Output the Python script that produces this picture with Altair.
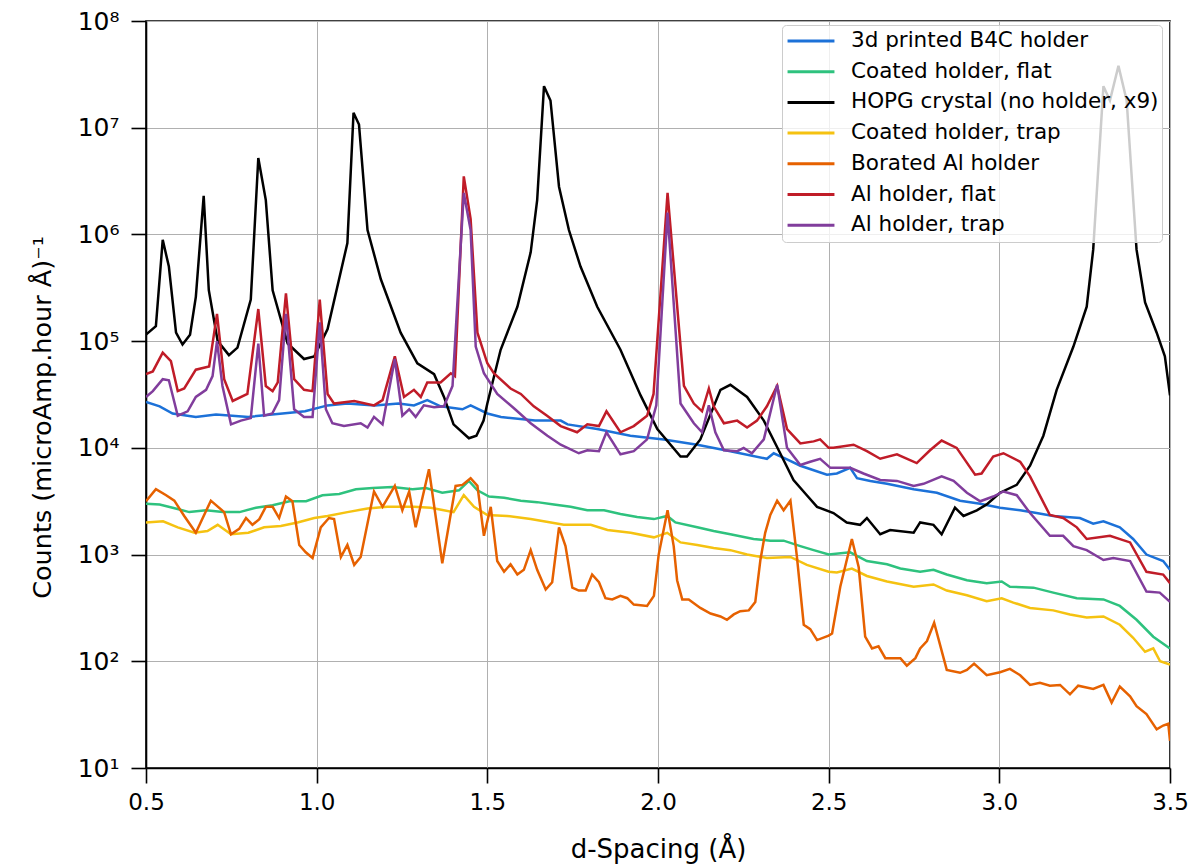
import altair as alt
import pandas as pd

SERIES = [
    "3d printed B4C holder",
    "Coated holder, flat",
    "HOPG crystal (no holder, x9)",
    "Coated holder, trap",
    "Borated Al holder",
    "Al holder, flat",
    "Al holder, trap",
]
COLORS = ["#1c71d8", "#2ec27e", "#000000", "#f5c211", "#e66100", "#c01c28", "#813d9c"]

# --- 3d printed B4C holder (blue)
b4c_d = [0.5, 0.54, 0.578, 0.646, 0.705, 0.80, 0.90, 0.966, 1.032, 1.09, 1.17, 1.24, 1.285, 1.324,
         1.363, 1.427, 1.451, 1.50, 1.54, 1.64, 1.715, 1.735, 1.822, 1.919, 2.017, 2.115, 2.212,
         2.319, 2.339, 2.378, 2.417, 2.495, 2.524, 2.563, 2.583, 2.622, 2.671, 2.749, 2.817, 2.885,
         2.944, 3.002, 3.061, 3.109, 3.158, 3.236, 3.275, 3.305, 3.353, 3.392, 3.431, 3.48, 3.5]
b4c_c = [27000, 24500, 21000, 19500, 20500, 19500, 21000, 22000, 25000, 26000, 25000, 26000, 25000, 28000,
         24500, 23000, 25000, 21000, 19500, 18000, 18000, 16600, 15000, 13000, 12000, 10700, 9300,
         7900, 8900, 7800, 6800, 5600, 5750, 6500, 5200, 4900, 4600, 4100, 3800, 3200,
         3000, 2750, 2600, 2450, 2300, 2200, 1950, 2050, 1800, 1400, 1000, 870, 720]

# --- Coated holder, flat (green)
cflat_d = [0.5, 0.54, 0.578, 0.627, 0.676, 0.725, 0.774, 0.822, 0.871, 0.92, 0.969, 1.017, 1.066,
           1.115, 1.164, 1.222, 1.281, 1.32, 1.368, 1.417, 1.446, 1.471, 1.505, 1.549, 1.598, 1.646,
           1.695, 1.744, 1.793, 1.842, 1.89, 1.939, 1.988, 2.027, 2.051, 2.115, 2.163, 2.212, 2.28,
           2.329, 2.368, 2.417, 2.456, 2.5, 2.563, 2.612, 2.671, 2.71, 2.768, 2.807, 2.846, 2.905,
           2.963, 3.007, 3.031, 3.1, 3.158, 3.227, 3.305, 3.353, 3.402, 3.451, 3.5]
cflat_c = [3000, 2950, 2750, 2500, 2600, 2500, 2500, 2750, 2900, 3160, 3160, 3600, 3700,
           4100, 4200, 4300, 4100, 4200, 3800, 4000, 4900, 4000, 3500, 3400, 3200, 3100,
           2950, 2800, 2600, 2600, 2400, 2250, 2150, 2300, 2000, 1800, 1660, 1550, 1400,
           1350, 1350, 1200, 1100, 1000, 1050, 870, 810, 740, 690, 720, 650, 575,
           540, 560, 500, 490, 440, 390, 380, 330, 245, 170, 132]

# --- HOPG crystal (no holder, x9) (black)
hopg_d = [0.5, 0.529, 0.549, 0.567, 0.588, 0.607, 0.629, 0.646, 0.669, 0.684, 0.71, 0.743, 0.768,
          0.807, 0.829, 0.851, 0.871, 0.915, 0.963, 0.993, 1.032, 1.09, 1.108, 1.124, 1.149, 1.188,
          1.246, 1.295, 1.344, 1.373, 1.401, 1.446, 1.468, 1.489, 1.5, 1.539, 1.588, 1.627, 1.646,
          1.666, 1.685, 1.71, 1.739, 1.773, 1.822, 1.89, 1.949, 1.998, 2.066, 2.085, 2.124, 2.183,
          2.212, 2.261, 2.31, 2.358, 2.397, 2.436, 2.466, 2.514, 2.553, 2.592, 2.612, 2.651, 2.68,
          2.749, 2.768, 2.807, 2.831, 2.87, 2.895, 2.934, 2.963, 3.002, 3.051, 3.09, 3.129, 3.168,
          3.217, 3.256, 3.275, 3.305, 3.324, 3.349, 3.373, 3.402, 3.427, 3.461, 3.485, 3.5]
hopg_c = [115000, 138000, 890000, 500000, 120000, 93000, 115000, 260000, 2300000, 300000, 100000, 74000, 87000,
          245000, 5200000, 2100000, 300000, 95000, 68000, 72000, 130000, 830000, 13800000, 10700000, 1100000, 380000,
          120000, 62000, 49000, 30000, 16600, 12300, 13000, 18000, 26000, 83000, 210000, 680000, 2100000,
          24500000, 18000000, 2800000, 1100000, 500000, 210000, 83000, 31000, 15000, 8300, 8300, 12000, 35000,
          39000, 30000, 18000, 8900, 5000, 3600, 2800, 2450, 2000, 1900, 2200, 1550, 1700,
          1600, 2000, 1900, 1550, 2750, 2300, 2600, 2950, 3800, 4500, 6800, 13000, 35000,
          89000, 210000, 720000, 24500000, 18000000, 38000000, 18000000, 720000, 230000, 120000, 72000, 31000]

# --- Coated holder, trap (yellow)
ctrap_d = [0.5, 0.55, 0.593, 0.642, 0.68, 0.71, 0.749, 0.8, 0.846, 0.895, 0.944, 0.993, 1.032, 1.09,
           1.149, 1.207, 1.285, 1.334, 1.401, 1.431, 1.461, 1.5, 1.558, 1.627, 1.724, 1.803, 1.852,
           1.92, 1.988, 2.027, 2.066, 2.115, 2.163, 2.212, 2.261, 2.319, 2.388, 2.436, 2.5, 2.524,
           2.568, 2.612, 2.671, 2.749, 2.807, 2.846, 2.905, 2.963, 3.007, 3.041, 3.09, 3.158, 3.207,
           3.256, 3.305, 3.353, 3.392, 3.427, 3.451, 3.471, 3.5]
ctrap_c = [2000, 2050, 1800, 1600, 1660, 1900, 1550, 1600, 1800, 1850, 2000, 2200, 2300, 2500,
           2700, 2800, 2800, 2750, 2500, 3600, 2800, 2350, 2300, 2150, 1900, 1900, 1700,
           1600, 1450, 1600, 1300, 1230, 1150, 1100, 1000, 930, 950, 800, 690, 680,
           740, 630, 560, 500, 525, 460, 415, 365, 390, 355, 316, 300, 275,
           257, 263, 220, 166, 123, 132, 100, 93]

# --- Borated Al holder (orange)
bal_d = [0.5, 0.529, 0.559, 0.583, 0.612, 0.646, 0.69, 0.729, 0.749, 0.773, 0.793, 0.812, 0.832,
         0.851, 0.871, 0.89, 0.91, 0.929, 0.949, 0.968, 0.988, 1.012, 1.036, 1.051, 1.071, 1.09,
         1.11, 1.129, 1.168, 1.193, 1.229, 1.251, 1.271, 1.29, 1.329, 1.368, 1.407, 1.427, 1.451,
         1.471, 1.49, 1.51, 1.529, 1.549, 1.568, 1.588, 1.607, 1.627, 1.646, 1.671, 1.69, 1.71,
         1.729, 1.749, 1.768, 1.788, 1.807, 1.827, 1.846, 1.866, 1.89, 1.91, 1.929, 1.968, 1.988,
         2.002, 2.028, 2.046, 2.056, 2.071, 2.09, 2.124, 2.154, 2.183, 2.202, 2.222, 2.241, 2.266,
         2.285, 2.3, 2.314, 2.329, 2.349, 2.368, 2.388, 2.407, 2.427, 2.446, 2.466, 2.5, 2.51,
         2.534, 2.568, 2.588, 2.607, 2.627, 2.646, 2.666, 2.71, 2.729, 2.754, 2.768, 2.788, 2.809,
         2.846, 2.885, 2.905, 2.926, 2.963, 3.002, 3.031, 3.061, 3.09, 3.119, 3.148, 3.178, 3.207,
         3.231, 3.275, 3.305, 3.329, 3.353, 3.383, 3.402, 3.431, 3.461, 3.48, 3.495, 3.5]
bal_c = [3160, 4100, 3600, 3200, 2300, 1600, 3200, 2500, 1550, 1740, 2200, 1900, 2150,
         2800, 2800, 2200, 3500, 3160, 1230, 1050, 930, 1800, 2200, 2150, 950, 1230,
         800, 950, 3900, 2800, 4400, 2600, 3900, 1800, 6300, 830, 4400, 4500, 5200,
         4400, 1500, 2800, 870, 690, 810, 650, 720, 1100, 720, 470, 550, 1800,
         1200, 490, 460, 460, 650, 550, 390, 380, 410, 390, 340, 330, 410,
         1000, 2600, 1200, 575, 380, 380, 316, 280, 263, 245, 275, 295, 300,
         360, 890, 1600, 2350, 3200, 2600, 3200, 950, 220, 200, 158, 174, 182,
         500, 1400, 760, 170, 132, 138, 107, 107, 91, 107, 132, 155, 230,
         83, 78, 83, 95, 74, 79, 85, 74, 60, 63, 59, 60, 49,
         59, 55, 60, 41, 58, 47, 38, 32, 23, 25, 26, 18]

# --- Al holder, flat (red)
alf_d = [0.5, 0.52, 0.549, 0.573, 0.593, 0.612, 0.646, 0.685, 0.708, 0.729, 0.754, 0.797, 0.829,
         0.851, 0.871, 0.886, 0.91, 0.934, 0.963, 0.988, 1.009, 1.032, 1.051, 1.11, 1.168, 1.193,
         1.229, 1.256, 1.285, 1.305, 1.324, 1.363, 1.393, 1.405, 1.431, 1.451, 1.471, 1.5, 1.519,
         1.568, 1.598, 1.636, 1.675, 1.715, 1.763, 1.793, 1.827, 1.849, 1.89, 1.929, 1.968, 1.987,
         2.028, 2.076, 2.105, 2.129, 2.149, 2.163, 2.193, 2.232, 2.261, 2.29, 2.319, 2.349, 2.378,
         2.417, 2.456, 2.475, 2.5, 2.514, 2.573, 2.612, 2.651, 2.7, 2.758, 2.797, 2.831, 2.875,
         2.929, 2.948, 2.982, 3.012, 3.061, 3.09, 3.148, 3.187, 3.227, 3.256, 3.324, 3.383, 3.431,
         3.48, 3.5]
alf_c = [49000, 52000, 78000, 65000, 34000, 36000, 54000, 58000, 180000, 44000, 27500, 32000, 200000,
         38000, 34000, 41000, 280000, 44000, 35000, 34000, 245000, 32000, 26000, 27500, 25000, 28000,
         72000, 30000, 35000, 30000, 41000, 41000, 50000, 47000, 3500000, 1400000, 120000, 62000, 50000,
         36000, 32000, 24500, 20000, 16000, 14000, 16600, 16000, 22000, 14000, 16000, 20000, 32000,
         2450000, 38000, 26000, 22000, 36000, 24500, 17000, 18000, 15500, 18000, 24500, 38000, 15000,
         11000, 11500, 12000, 10000, 10000, 10700, 9300, 7900, 8700, 7200, 9500, 11700, 10000,
         5600, 5750, 8300, 8900, 7400, 5400, 2350, 2200, 1800, 1400, 1500, 1300, 690,
         650, 540]

# --- Al holder, trap (purple)
alt_d = [0.5, 0.52, 0.549, 0.567, 0.593, 0.622, 0.646, 0.676, 0.695, 0.708, 0.724, 0.749, 0.778,
         0.807, 0.829, 0.846, 0.87, 0.89, 0.91, 0.934, 0.963, 0.988, 1.009, 1.027, 1.046, 1.08,
         1.129, 1.149, 1.168, 1.193, 1.229, 1.251, 1.271, 1.29, 1.314, 1.344, 1.373, 1.398, 1.431,
         1.451, 1.466, 1.49, 1.529, 1.578, 1.627, 1.676, 1.715, 1.768, 1.793, 1.827, 1.849, 1.89,
         1.929, 1.968, 1.995, 2.028, 2.066, 2.105, 2.129, 2.149, 2.168, 2.193, 2.232, 2.251, 2.275,
         2.31, 2.349, 2.378, 2.417, 2.446, 2.475, 2.505, 2.563, 2.602, 2.651, 2.7, 2.749, 2.778,
         2.831, 2.866, 2.905, 2.944, 2.982, 3.012, 3.051, 3.09, 3.148, 3.187, 3.217, 3.256, 3.305,
         3.334, 3.383, 3.431, 3.47, 3.5]
alt_c = [30000, 34000, 44000, 43000, 20000, 22000, 30000, 35000, 47000, 100000, 38000, 16600, 18000,
         19000, 95000, 20000, 21000, 28000, 180000, 23000, 19500, 19500, 150000, 23000, 17000, 16000,
         17000, 15500, 19500, 16600, 68000, 20000, 23000, 19500, 25000, 24000, 24500, 38000, 2450000,
         1100000, 89000, 50000, 32000, 23500, 17000, 13000, 10700, 8900, 9500, 9300, 14000, 8700,
         9300, 12000, 25000, 1600000, 26000, 17000, 14000, 25000, 14000, 9500, 9300, 10000, 8900,
         12000, 39000, 10000, 6900, 7400, 7900, 6500, 6500, 5750, 5000, 4900, 4400, 4600,
         5400, 4900, 3800, 3160, 3500, 3900, 3600, 2450, 1500, 1500, 1200, 1100, 890,
         930, 870, 450, 440, 360]

DATA = [
    (b4c_d, b4c_c), (cflat_d, cflat_c), (hopg_d, hopg_c), (ctrap_d, ctrap_c),
    (bal_d, bal_c), (alf_d, alf_c), (alt_d, alt_c),
]

rows = []
for name, (ds, cs) in zip(SERIES, DATA):
    for i, (d, c) in enumerate(zip(ds, cs)):
        rows.append({"series": name, "d": d, "counts": c, "i": i})
df = pd.DataFrame(rows)

FONT = "DejaVu Sans"
X_TICKS = [0.5, 1.0, 1.5, 2.0, 2.5, 3.0, 3.5]
Y_TICKS = [1e1, 1e2, 1e3, 1e4, 1e5, 1e6, 1e7, 1e8]

color = alt.Color(
    "series:N",
    scale=alt.Scale(domain=SERIES, range=COLORS),
    legend=alt.Legend(
        title=None,
        orient="none",
        legendX=636,
        legendY=4,
        direction="vertical",
        fillColor="rgba(255,255,255,0.8)",
        strokeColor="#cccccc",
        cornerRadius=4,
        padding=3,
        symbolType="stroke",
        symbolSize=2200,
        symbolStrokeWidth=3,
        symbolOffset=1,
        clipHeight=26,
        rowPadding=4.7,
        labelFont=FONT,
        labelFontSize=21.5,
        labelColor="#000000",
        labelOffset=15,
        labelLimit=400,
        zindex=1,
    ),
)

base = alt.Chart(df)
layers = []
for name in SERIES:
    layers.append(
        base.transform_filter(alt.datum.series == name)
        .mark_line(strokeWidth=2.5, clip=True)
        .encode(
            x=alt.X(
                "d:Q",
                scale=alt.Scale(domain=[0.5, 3.5], nice=False, zero=False),
                axis=alt.Axis(
                    values=X_TICKS,
                    format=".1f",
                    title="d-Spacing (Å)",
                    grid=True,
                    gridColor="#b0b0b0",
                    gridWidth=1,
                    domainColor="#000000",
                    domainWidth=1.6,
                    tickColor="#000000",
                    tickWidth=1.6,
                    tickSize=15,
                    labelFont=FONT,
                    labelFontSize=23,
                    labelColor="#000000",
                    labelPadding=8,
                    titleFont=FONT,
                    titleFontSize=26,
                    titleFontWeight="normal",
                    titleColor="#000000",
                    titlePadding=22,
                    labelFlush=False,
                ),
            ),
            y=alt.Y(
                "counts:Q",
                scale=alt.Scale(type="log", domain=[10, 1e8], nice=False),
                axis=alt.Axis(
                    values=Y_TICKS,
                    labelExpr="'10' + ['⁰','¹','²','³','⁴','⁵','⁶','⁷','⁸','⁹'][round(log(datum.value)/LN10)]",
                    title="Counts (microAmp.hour Å)⁻¹",
                    grid=True,
                    gridColor="#b0b0b0",
                    gridWidth=1,
                    domainColor="#000000",
                    domainWidth=1.6,
                    tickColor="#000000",
                    tickWidth=1.6,
                    tickSize=15,
                    labelFont=FONT,
                    labelFontSize=25,
                    labelColor="#000000",
                    labelPadding=12,
                    titleFont=FONT,
                    titleFontSize=25.5,
                    titleFontWeight="normal",
                    titleColor="#000000",
                    titlePadding=22,
                    titleY=396,
                    labelFlush=False,
                ),
            ),
            color=color,
            order="i:Q",
        )
    )

chart = (
    alt.layer(*layers)
    .properties(
        width=1024,
        height=747,
        padding={"left": 146, "top": 21, "right": 34, "bottom": 98},
        autosize=alt.AutoSizeParams(type="none"),
        background="#ffffff",
    )
    .configure_view(stroke="#000000", strokeWidth=1.6)
)

chart.save("out.html", embed_options={"renderer": "svg", "actions": False})
